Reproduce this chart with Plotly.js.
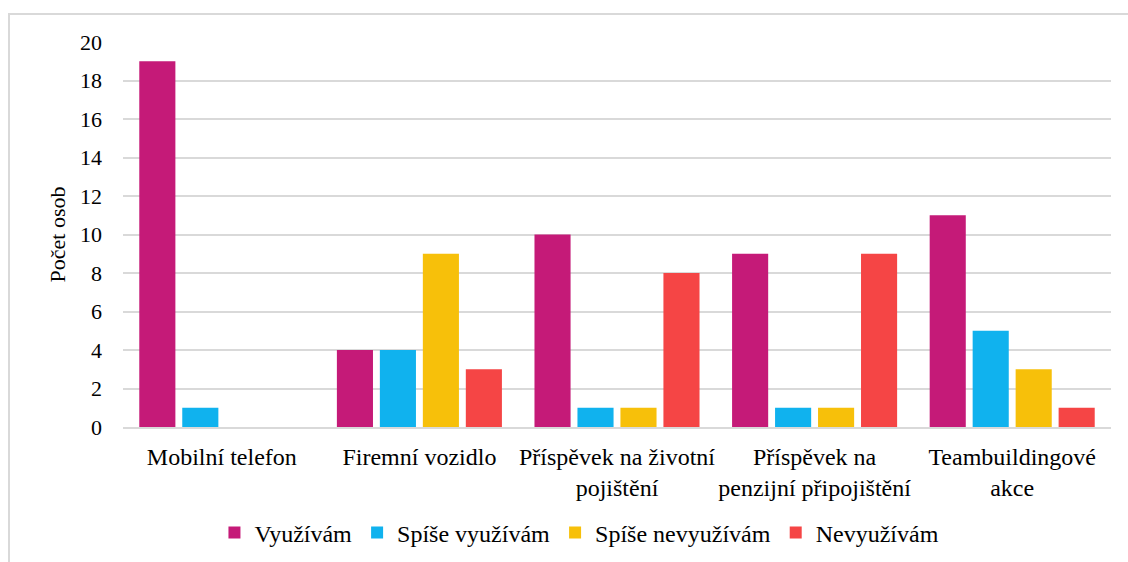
<!DOCTYPE html>
<html>
<head>
<meta charset="utf-8">
<script src="https://cdn.plot.ly/plotly-3.0.1.min.js"></script>
<style>
html,body{margin:0;padding:0;background:#fff;overflow:hidden;}
#wrap{position:absolute;left:8px;top:13px;width:1118px;height:547px;border-left:2px solid #d9d9d9;border-top:2px solid #d9d9d9;}
#chart{width:1118px;height:547px;}
</style>
</head>
<body>
<div id="wrap"><div id="chart"></div></div>
<script>
const categories = ["Mobilní telefon", "Firemní vozidlo", "Příspěvek na životní<br>pojištění", "Příspěvek na<br>penzijní připojištění", "Teambuildingové<br>akce"];
const seriesNames = ["Využívám", "Spíše využívám", "Spíše nevyužívám", "Nevyužívám"];
const vyuzivam = [19, 4, 10, 9, 11];
const spiseVyuzivam = [1, 4, 1, 1, 5];
const spiseNevyuzivam = [0, 9, 1, 1, 3];
const nevyuzivam = [0, 3, 8, 9, 1];
const yTicks = [0, 2, 4, 6, 8, 10, 12, 14, 16, 18, 20];

const colors = ["#C51A78", "#10B2EE", "#F7C00A", "#F54545"];
const series = [vyuzivam, spiseVyuzivam, spiseNevyuzivam, nevyuzivam];

const font = "'Liberation Serif', 'Times New Roman', serif";
const data = series.map((vals, i) => ({
  type: "bar",
  name: seriesNames[i],
  x: categories,
  y: vals,
  marker: {color: colors[i], line: {width: 0}},
  hoverinfo: "x+y+name"
}));

const layout = {
  width: 1118, height: 547,
  margin: {l: 113, r: 17, t: 27, b: 135, autoexpand: false},
  paper_bgcolor: "#ffffff",
  plot_bgcolor: "#ffffff",
  font: {family: font, size: 22, color: "#000"},
  barmode: "group",
  bargap: 0.13,
  bargroupgap: 0.16,
  showlegend: true,
  legend: {orientation: "h", x: 0.462, xanchor: "center", y: -0.275, yanchor: "middle",
           font: {family: font, size: 24, color: "#000"}, itemwidth: 30, tracegroupgap: 0},
  xaxis: {
    type: "category",
    showgrid: false,
    showline: true, linecolor: "#d9d9d9", linewidth: 2,
    ticks: "", ticklabelstandoff: 7,
    tickfont: {family: font, size: 24, color: "#000"},
    automargin: false
  },
  yaxis: {
    range: [0, 20],
    tickvals: yTicks,
    ticktext: yTicks.map(String),
    showgrid: true, gridcolor: "#d9d9d9", gridwidth: 2,
    zeroline: false, showline: false,
    ticks: "", ticklabelstandoff: 20,
    tickfont: {family: font, size: 22, color: "#000"},
    title: {text: "Počet osob", font: {family: font, size: 22, color: "#000"}, standoff: 8},
    automargin: false
  }
};

Plotly.newPlot("chart", data, layout, {displayModeBar: false, staticPlot: true});
</script>
</body>
</html>
